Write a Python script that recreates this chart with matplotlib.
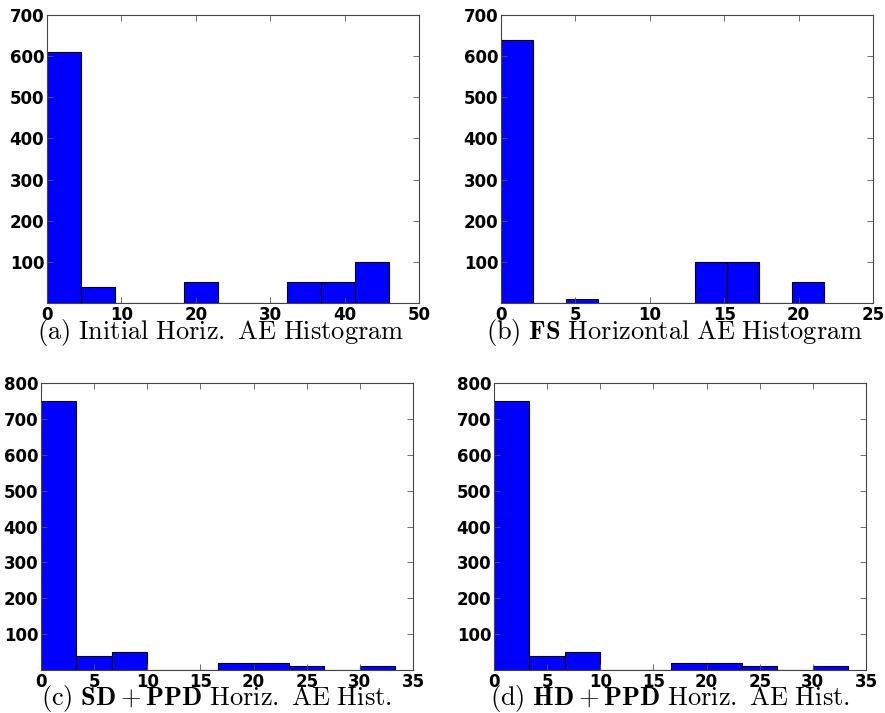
import matplotlib
matplotlib.use("Agg")
import matplotlib.pyplot as plt

# bin edges and counts (10 bins each)
edges_a = [0, 4.6, 9.2, 13.8, 18.4, 23.0, 27.6, 32.2, 36.8, 41.4, 46.0]
counts_a = [610, 40, 0, 0, 50, 0, 0, 50, 50, 100]

edges_b = [0, 2.17, 4.34, 6.51, 8.68, 10.85, 13.02, 15.19, 17.36, 19.53, 21.7]
counts_b = [640, 0, 10, 0, 0, 0, 100, 100, 0, 50]

edges_c = [0, 3.33, 6.67, 10.0, 13.33, 16.67, 20.0, 23.33, 26.67, 30.0, 33.33]
counts_c = [750, 40, 50, 0, 0, 20, 20, 10, 0, 10]

edges_d = [0, 3.33, 6.67, 10.0, 13.33, 16.67, 20.0, 23.33, 26.67, 30.0, 33.33]
counts_d = [750, 40, 50, 0, 0, 20, 20, 10, 0, 10]

captions = [
    r'$\mathrm{(a)\ Initial\ Horiz.\ AE\ Histogram}$',
    r'$\mathrm{(b)}\ \mathbf{FS}\ \mathrm{Horizontal\ AE\ Histogram}$',
    r'$\mathrm{(c)}\ \mathbf{SD}+\mathbf{PPD}\ \mathrm{Horiz.\ AE\ Hist.}$',
    r'$\mathrm{(d)}\ \mathbf{HD}+\mathbf{PPD}\ \mathrm{Horiz.\ AE\ Hist.}$',
]

plt.rcParams['mathtext.fontset'] = 'cm'

W, H = 885, 713
fig = plt.figure(figsize=(W / 100, H / 100), dpi=100)

# axes boxes in pixels: left, top, right, bottom
boxes = [(47, 15, 419, 303), (501, 15, 873, 303),
         (41, 383, 413, 670), (494, 383, 866, 670)]
xlims = [50, 25, 35, 35]
xsteps = [10, 5, 5, 5]
ylims = [700, 700, 800, 800]
caption_pos = [(221, 332), (675, 332), (216, 698), (670, 698)]

data = [(edges_a, counts_a), (edges_b, counts_b),
        (edges_c, counts_c), (edges_d, counts_d)]

for i, (edges, counts) in enumerate(data):
    l, t, r, b = boxes[i]
    ax = fig.add_axes([l / W, 1 - b / H, (r - l) / W, (b - t) / H])
    widths = [edges[k + 1] - edges[k] for k in range(len(counts))]
    ax.bar(edges[:-1], counts, width=widths, align='edge',
           color='#0000ff', edgecolor='black', linewidth=0.8)
    ax.set_xlim(0, xlims[i])
    ax.set_ylim(0, ylims[i])
    ax.set_xticks(range(0, xlims[i] + 1, xsteps[i]))
    ax.set_yticks(range(100, ylims[i] + 1, 100))
    ax.tick_params(direction='in', length=4, width=0.6, top=True, right=True,
                   labelsize=12, pad=2, colors='#555555', labelcolor='black')
    for lab in ax.get_xticklabels() + ax.get_yticklabels():
        lab.set_fontweight('bold')
    for sp in ax.spines.values():
        sp.set_color('#444444')
        sp.set_linewidth(0.8)
    cx, cy = caption_pos[i]
    fig.text(cx / W, 1 - cy / H, captions[i], ha='center', va='center',
             fontsize=19)

fig.savefig('out.png', dpi=100)
